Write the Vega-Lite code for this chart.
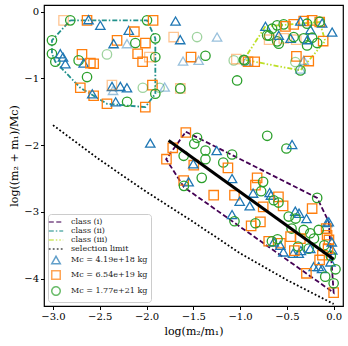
{
  "$schema": "https://vega.github.io/schema/vega-lite/v6.json",
  "width": 299,
  "height": 301,
  "autosize": "none",
  "padding": {"left": 44, "top": 5, "right": 5, "bottom": 40},
  "config": {
    "font": "DejaVu Serif",
    "view": {"stroke": "black", "strokeWidth": 1.2},
    "axis": {"grid": false, "domain": false, "tickColor": "black", "tickSize": 3.5, "labelColor": "black", "labelFontSize": 10, "titleFontSize": 11, "titleFontWeight": "normal", "titleColor": "black", "labelFont": "DejaVu Serif", "titleFont": "DejaVu Serif"}
  },
  "datasets": {
    "lines": [
      {"s": "class (i)", "i": 0, "x": -1.58, "y": -1.80},
      {"s": "class (i)", "i": 1, "x": -0.176, "y": -2.79},
      {"s": "class (i)", "i": 2, "x": -0.052, "y": -3.15},
      {"s": "class (i)", "i": 3, "x": 0.0, "y": -4.21},
      {"s": "class (i)", "i": 4, "x": -1.60, "y": -2.63},
      {"s": "class (i)", "i": 5, "x": -1.79, "y": -2.21},
      {"s": "class (i)", "i": 6, "x": -1.58, "y": -1.80},
      {"s": "class (ii)", "i": 0, "x": -2.815, "y": -0.13},
      {"s": "class (ii)", "i": 1, "x": -1.995, "y": -0.13},
      {"s": "class (ii)", "i": 2, "x": -1.906, "y": -0.40},
      {"s": "class (ii)", "i": 3, "x": -1.906, "y": -1.23},
      {"s": "class (ii)", "i": 4, "x": -2.013, "y": -1.43},
      {"s": "class (ii)", "i": 5, "x": -2.423, "y": -1.38},
      {"s": "class (ii)", "i": 6, "x": -2.565, "y": -1.26},
      {"s": "class (ii)", "i": 7, "x": -2.708, "y": -1.14},
      {"s": "class (ii)", "i": 8, "x": -2.975, "y": -0.75},
      {"s": "class (ii)", "i": 9, "x": -3.011, "y": -0.63},
      {"s": "class (ii)", "i": 10, "x": -3.011, "y": -0.43},
      {"s": "class (ii)", "i": 11, "x": -2.815, "y": -0.13},
      {"s": "class (iii)", "i": 0, "x": -0.729, "y": -0.22},
      {"s": "class (iii)", "i": 1, "x": -0.96, "y": -0.72},
      {"s": "class (iii)", "i": 2, "x": -0.355, "y": -0.88},
      {"s": "class (iii)", "i": 3, "x": -0.09, "y": -0.44},
      {"s": "class (iii)", "i": 4, "x": -0.149, "y": -0.155},
      {"s": "class (iii)", "i": 5, "x": -0.729, "y": -0.22},
      {"s": "selection limit", "i": 0, "x": -3.0, "y": -1.70},
      {"s": "selection limit", "i": 1, "x": -2.5, "y": -2.22},
      {"s": "selection limit", "i": 2, "x": -2.0, "y": -2.70},
      {"s": "selection limit", "i": 3, "x": -1.5, "y": -3.15},
      {"s": "selection limit", "i": 4, "x": -1.0, "y": -3.62},
      {"s": "selection limit", "i": 5, "x": -0.5, "y": -4.02},
      {"s": "selection limit", "i": 6, "x": 0.0, "y": -4.38}
    ],
    "fit": [
      {"x": -1.764, "y": -1.93},
      {"x": 0.0, "y": -3.71}
    ],
    "pts": [
      {"s": "Mc = 6.54e+19 kg", "f": true, "x": -2.887, "y": -0.13},
      {"s": "Mc = 1.77e+21 kg", "f": false, "x": -2.815, "y": -0.13},
      {"s": "Mc = 6.54e+19 kg", "f": false, "x": -2.636, "y": -0.13},
      {"s": "Mc = 4.19e+18 kg", "f": false, "x": -2.62, "y": -0.12},
      {"s": "Mc = 4.19e+18 kg", "f": false, "x": -2.494, "y": -0.205},
      {"s": "Mc = 4.19e+18 kg", "f": false, "x": -2.19, "y": -0.28},
      {"s": "Mc = 6.54e+19 kg", "f": false, "x": -2.13, "y": -0.30},
      {"s": "Mc = 1.77e+21 kg", "f": false, "x": -1.995, "y": -0.13},
      {"s": "Mc = 6.54e+19 kg", "f": false, "x": -1.93, "y": -0.13},
      {"s": "Mc = 6.54e+19 kg", "f": false, "x": -2.315, "y": -0.43},
      {"s": "Mc = 4.19e+18 kg", "f": false, "x": -2.352, "y": -0.48},
      {"s": "Mc = 4.19e+18 kg", "f": true, "x": -2.209, "y": -0.48},
      {"s": "Mc = 1.77e+21 kg", "f": false, "x": -2.12, "y": -0.47},
      {"s": "Mc = 6.54e+19 kg", "f": false, "x": -2.012, "y": -0.47},
      {"s": "Mc = 6.54e+19 kg", "f": false, "x": -2.095, "y": -0.63},
      {"s": "Mc = 6.54e+19 kg", "f": false, "x": -2.042, "y": -0.75},
      {"s": "Mc = 1.77e+21 kg", "f": false, "x": -1.906, "y": -0.40},
      {"s": "Mc = 1.77e+21 kg", "f": false, "x": -1.906, "y": -0.68},
      {"s": "Mc = 6.54e+19 kg", "f": true, "x": -1.97, "y": -0.68},
      {"s": "Mc = 1.77e+21 kg", "f": false, "x": -3.011, "y": -0.43},
      {"s": "Mc = 1.77e+21 kg", "f": false, "x": -3.011, "y": -0.63},
      {"s": "Mc = 1.77e+21 kg", "f": false, "x": -2.975, "y": -0.75},
      {"s": "Mc = 4.19e+18 kg", "f": false, "x": -2.922, "y": -0.63},
      {"s": "Mc = 4.19e+18 kg", "f": false, "x": -2.893, "y": -0.68},
      {"s": "Mc = 4.19e+18 kg", "f": false, "x": -2.868, "y": -0.78},
      {"s": "Mc = 6.54e+19 kg", "f": false, "x": -2.69, "y": -0.64},
      {"s": "Mc = 1.77e+21 kg", "f": false, "x": -2.726, "y": -0.73},
      {"s": "Mc = 4.19e+18 kg", "f": false, "x": -2.672, "y": -0.77},
      {"s": "Mc = 6.54e+19 kg", "f": false, "x": -2.60, "y": -0.77},
      {"s": "Mc = 6.54e+19 kg", "f": false, "x": -2.565, "y": -0.78},
      {"s": "Mc = 1.77e+21 kg", "f": true, "x": -2.423, "y": -0.64},
      {"s": "Mc = 1.77e+21 kg", "f": false, "x": -2.636, "y": -0.98},
      {"s": "Mc = 6.54e+19 kg", "f": false, "x": -2.708, "y": -1.14},
      {"s": "Mc = 6.54e+19 kg", "f": false, "x": -2.565, "y": -1.26},
      {"s": "Mc = 4.19e+18 kg", "f": false, "x": -2.58, "y": -1.23},
      {"s": "Mc = 6.54e+19 kg", "f": false, "x": -2.423, "y": -1.38},
      {"s": "Mc = 4.19e+18 kg", "f": false, "x": -2.33, "y": -1.35},
      {"s": "Mc = 1.77e+21 kg", "f": false, "x": -2.208, "y": -1.35},
      {"s": "Mc = 6.54e+19 kg", "f": false, "x": -2.013, "y": -1.43},
      {"s": "Mc = 4.19e+18 kg", "f": false, "x": -2.369, "y": -1.12},
      {"s": "Mc = 4.19e+18 kg", "f": false, "x": -2.28, "y": -1.12},
      {"s": "Mc = 4.19e+18 kg", "f": false, "x": -2.209, "y": -1.14},
      {"s": "Mc = 4.19e+18 kg", "f": true, "x": -2.358, "y": -1.18},
      {"s": "Mc = 6.54e+19 kg", "f": true, "x": -2.37, "y": -1.10},
      {"s": "Mc = 6.54e+19 kg", "f": false, "x": -1.937, "y": -1.10},
      {"s": "Mc = 1.77e+21 kg", "f": false, "x": -1.906, "y": -1.23},
      {"s": "Mc = 1.77e+21 kg", "f": true, "x": -2.04, "y": -1.14},
      {"s": "Mc = 1.77e+21 kg", "f": true, "x": -1.86, "y": -1.14},
      {"s": "Mc = 4.19e+18 kg", "f": true, "x": -1.806, "y": -1.13},
      {"s": "Mc = 6.54e+19 kg", "f": true, "x": -1.639, "y": -1.15},
      {"s": "Mc = 1.77e+21 kg", "f": false, "x": -1.639, "y": -1.15},
      {"s": "Mc = 4.19e+18 kg", "f": false, "x": -1.69, "y": -0.14},
      {"s": "Mc = 6.54e+19 kg", "f": true, "x": -1.71, "y": -0.38},
      {"s": "Mc = 4.19e+18 kg", "f": false, "x": -1.64, "y": -0.42},
      {"s": "Mc = 1.77e+21 kg", "f": true, "x": -1.46, "y": -0.38},
      {"s": "Mc = 4.19e+18 kg", "f": true, "x": -1.246, "y": -0.38},
      {"s": "Mc = 6.54e+19 kg", "f": false, "x": -1.524, "y": -0.68},
      {"s": "Mc = 4.19e+18 kg", "f": true, "x": -1.61, "y": -0.74},
      {"s": "Mc = 4.19e+18 kg", "f": true, "x": -1.443, "y": -0.73},
      {"s": "Mc = 1.77e+21 kg", "f": false, "x": -1.37, "y": -0.66},
      {"s": "Mc = 1.77e+21 kg", "f": true, "x": -1.068, "y": -0.73},
      {"s": "Mc = 6.54e+19 kg", "f": true, "x": -1.04, "y": -0.71},
      {"s": "Mc = 1.77e+21 kg", "f": false, "x": -0.951, "y": -0.73},
      {"s": "Mc = 6.54e+19 kg", "f": false, "x": -0.915, "y": -0.75},
      {"s": "Mc = 6.54e+19 kg", "f": false, "x": -0.844, "y": -0.75},
      {"s": "Mc = 4.19e+18 kg", "f": true, "x": -0.93, "y": -0.74},
      {"s": "Mc = 1.77e+21 kg", "f": false, "x": -1.032, "y": -1.03},
      {"s": "Mc = 4.19e+18 kg", "f": false, "x": -0.729, "y": -0.22},
      {"s": "Mc = 1.77e+21 kg", "f": false, "x": -0.711, "y": -0.355},
      {"s": "Mc = 1.77e+21 kg", "f": false, "x": -0.658, "y": -0.255},
      {"s": "Mc = 1.77e+21 kg", "f": false, "x": -0.604, "y": -0.205},
      {"s": "Mc = 1.77e+21 kg", "f": false, "x": -0.534, "y": -0.19},
      {"s": "Mc = 1.77e+21 kg", "f": false, "x": -0.69, "y": -0.36},
      {"s": "Mc = 1.77e+21 kg", "f": false, "x": -0.604, "y": -0.445},
      {"s": "Mc = 1.77e+21 kg", "f": false, "x": -0.587, "y": -0.48},
      {"s": "Mc = 4.19e+18 kg", "f": false, "x": -0.587, "y": -0.355},
      {"s": "Mc = 6.54e+19 kg", "f": true, "x": -0.69, "y": -0.42},
      {"s": "Mc = 6.54e+19 kg", "f": true, "x": -0.533, "y": -0.40},
      {"s": "Mc = 6.54e+19 kg", "f": false, "x": -0.515, "y": -0.22},
      {"s": "Mc = 6.54e+19 kg", "f": false, "x": -0.427, "y": -0.19},
      {"s": "Mc = 6.54e+19 kg", "f": false, "x": -0.32, "y": -0.14},
      {"s": "Mc = 6.54e+19 kg", "f": false, "x": -0.23, "y": -0.13},
      {"s": "Mc = 6.54e+19 kg", "f": false, "x": -0.149, "y": -0.155},
      {"s": "Mc = 6.54e+19 kg", "f": false, "x": -0.112, "y": -0.44},
      {"s": "Mc = 6.54e+19 kg", "f": false, "x": -0.398, "y": -0.67},
      {"s": "Mc = 6.54e+19 kg", "f": false, "x": -0.266, "y": -0.74},
      {"s": "Mc = 6.54e+19 kg", "f": true, "x": -0.40, "y": -0.42},
      {"s": "Mc = 4.19e+18 kg", "f": false, "x": -0.355, "y": -0.14},
      {"s": "Mc = 4.19e+18 kg", "f": false, "x": -0.248, "y": -0.27},
      {"s": "Mc = 4.19e+18 kg", "f": false, "x": -0.016, "y": -0.305},
      {"s": "Mc = 4.19e+18 kg", "f": false, "x": -0.46, "y": -0.40},
      {"s": "Mc = 4.19e+18 kg", "f": false, "x": -0.123, "y": -0.17},
      {"s": "Mc = 4.19e+18 kg", "f": true, "x": -0.32, "y": -0.73},
      {"s": "Mc = 1.77e+21 kg", "f": false, "x": -0.427, "y": -0.38},
      {"s": "Mc = 1.77e+21 kg", "f": false, "x": -0.284, "y": -0.18},
      {"s": "Mc = 1.77e+21 kg", "f": false, "x": -0.23, "y": -0.39},
      {"s": "Mc = 1.77e+21 kg", "f": false, "x": -0.284, "y": -0.505},
      {"s": "Mc = 1.77e+21 kg", "f": false, "x": -0.176, "y": -0.47},
      {"s": "Mc = 1.77e+21 kg", "f": false, "x": -0.355, "y": -0.88},
      {"s": "Mc = 4.19e+18 kg", "f": true, "x": -0.355, "y": -0.86},
      {"s": "Mc = 1.77e+21 kg", "f": true, "x": -0.41, "y": -0.755},
      {"s": "Mc = 1.77e+21 kg", "f": false, "x": -0.96, "y": -0.72},
      {"s": "Mc = 1.77e+21 kg", "f": false, "x": -0.15, "y": -0.15},
      {"s": "Mc = 1.77e+21 kg", "f": false, "x": -0.32, "y": -0.40},
      {"s": "Mc = 4.19e+18 kg", "f": false, "x": -0.28, "y": -0.42},
      {"s": "Mc = 4.19e+18 kg", "f": false, "x": -1.96, "y": -1.97},
      {"s": "Mc = 6.54e+19 kg", "f": false, "x": -1.58, "y": -1.81},
      {"s": "Mc = 1.77e+21 kg", "f": false, "x": -1.46, "y": -1.89},
      {"s": "Mc = 1.77e+21 kg", "f": false, "x": -1.49, "y": -1.98},
      {"s": "Mc = 6.54e+19 kg", "f": false, "x": -1.72, "y": -2.04},
      {"s": "Mc = 6.54e+19 kg", "f": false, "x": -1.787, "y": -2.21},
      {"s": "Mc = 1.77e+21 kg", "f": false, "x": -1.603, "y": -2.16},
      {"s": "Mc = 1.77e+21 kg", "f": false, "x": -1.37, "y": -2.08},
      {"s": "Mc = 1.77e+21 kg", "f": false, "x": -1.37, "y": -2.21},
      {"s": "Mc = 4.19e+18 kg", "f": false, "x": -1.25, "y": -2.08},
      {"s": "Mc = 6.54e+19 kg", "f": false, "x": -1.495, "y": -2.30},
      {"s": "Mc = 4.19e+18 kg", "f": false, "x": -1.50, "y": -2.28},
      {"s": "Mc = 1.77e+21 kg", "f": false, "x": -1.18, "y": -2.26},
      {"s": "Mc = 1.77e+21 kg", "f": false, "x": -1.086, "y": -2.14},
      {"s": "Mc = 6.54e+19 kg", "f": false, "x": -1.13, "y": -2.34},
      {"s": "Mc = 1.77e+21 kg", "f": false, "x": -1.41, "y": -2.49},
      {"s": "Mc = 4.19e+18 kg", "f": false, "x": -1.086, "y": -2.50},
      {"s": "Mc = 6.54e+19 kg", "f": false, "x": -1.603, "y": -2.53},
      {"s": "Mc = 4.19e+18 kg", "f": false, "x": -1.55, "y": -2.55},
      {"s": "Mc = 1.77e+21 kg", "f": false, "x": -1.60, "y": -2.61},
      {"s": "Mc = 6.54e+19 kg", "f": false, "x": -1.282, "y": -2.75},
      {"s": "Mc = 6.54e+19 kg", "f": false, "x": -1.06, "y": -2.75},
      {"s": "Mc = 4.19e+18 kg", "f": false, "x": -1.004, "y": -2.84},
      {"s": "Mc = 4.19e+18 kg", "f": false, "x": -0.897, "y": -2.91},
      {"s": "Mc = 4.19e+18 kg", "f": false, "x": -1.086, "y": -3.04},
      {"s": "Mc = 1.77e+21 kg", "f": false, "x": -1.06, "y": -3.14},
      {"s": "Mc = 6.54e+19 kg", "f": false, "x": -0.818, "y": -2.49},
      {"s": "Mc = 6.54e+19 kg", "f": false, "x": -0.836, "y": -2.60},
      {"s": "Mc = 1.77e+21 kg", "f": false, "x": -0.754, "y": -2.55},
      {"s": "Mc = 1.77e+21 kg", "f": false, "x": -0.775, "y": -2.69},
      {"s": "Mc = 4.19e+18 kg", "f": false, "x": -0.861, "y": -2.72},
      {"s": "Mc = 4.19e+18 kg", "f": false, "x": -0.684, "y": -2.71},
      {"s": "Mc = 4.19e+18 kg", "f": false, "x": -0.67, "y": -2.75},
      {"s": "Mc = 6.54e+19 kg", "f": false, "x": -0.753, "y": -2.925},
      {"s": "Mc = 6.54e+19 kg", "f": false, "x": -0.59, "y": -2.775},
      {"s": "Mc = 6.54e+19 kg", "f": false, "x": -0.54, "y": -2.91},
      {"s": "Mc = 1.77e+21 kg", "f": false, "x": -0.59, "y": -2.86},
      {"s": "Mc = 6.54e+19 kg", "f": false, "x": -0.783, "y": -3.15},
      {"s": "Mc = 6.54e+19 kg", "f": false, "x": -0.882, "y": -3.21},
      {"s": "Mc = 1.77e+21 kg", "f": false, "x": -0.836, "y": -3.17},
      {"s": "Mc = 6.54e+19 kg", "f": false, "x": -0.23, "y": -2.95},
      {"s": "Mc = 1.77e+21 kg", "f": false, "x": -0.176, "y": -2.79},
      {"s": "Mc = 4.19e+18 kg", "f": false, "x": -0.41, "y": -2.99},
      {"s": "Mc = 4.19e+18 kg", "f": false, "x": -0.37, "y": -3.02},
      {"s": "Mc = 4.19e+18 kg", "f": false, "x": -0.29, "y": -3.10},
      {"s": "Mc = 4.19e+18 kg", "f": false, "x": -0.07, "y": -3.16},
      {"s": "Mc = 1.77e+21 kg", "f": false, "x": -0.641, "y": -2.825},
      {"s": "Mc = 1.77e+21 kg", "f": false, "x": -0.48, "y": -3.07},
      {"s": "Mc = 1.77e+21 kg", "f": false, "x": -0.407, "y": -3.10},
      {"s": "Mc = 1.77e+21 kg", "f": false, "x": -0.45, "y": -3.25},
      {"s": "Mc = 4.19e+18 kg", "f": false, "x": -0.052, "y": -3.15},
      {"s": "Mc = 6.54e+19 kg", "f": false, "x": -0.08, "y": -3.25},
      {"s": "Mc = 6.54e+19 kg", "f": false, "x": -0.07, "y": -3.35},
      {"s": "Mc = 6.54e+19 kg", "f": false, "x": -0.05, "y": -3.42},
      {"s": "Mc = 1.77e+21 kg", "f": false, "x": -0.16, "y": -3.27},
      {"s": "Mc = 1.77e+21 kg", "f": false, "x": -0.32, "y": -3.27},
      {"s": "Mc = 1.77e+21 kg", "f": false, "x": -0.21, "y": -3.40},
      {"s": "Mc = 1.77e+21 kg", "f": false, "x": -0.25, "y": -3.32},
      {"s": "Mc = 6.54e+19 kg", "f": false, "x": -0.694, "y": -3.44},
      {"s": "Mc = 6.54e+19 kg", "f": false, "x": -0.569, "y": -3.47},
      {"s": "Mc = 6.54e+19 kg", "f": false, "x": -0.356, "y": -3.40},
      {"s": "Mc = 6.54e+19 kg", "f": false, "x": -0.46, "y": -3.37},
      {"s": "Mc = 4.19e+18 kg", "f": false, "x": -0.434, "y": -3.62},
      {"s": "Mc = 4.19e+18 kg", "f": false, "x": -0.537, "y": -3.60},
      {"s": "Mc = 4.19e+18 kg", "f": false, "x": -0.64, "y": -3.45},
      {"s": "Mc = 4.19e+18 kg", "f": false, "x": -0.57, "y": -3.50},
      {"s": "Mc = 4.19e+18 kg", "f": false, "x": -0.373, "y": -3.62},
      {"s": "Mc = 1.77e+21 kg", "f": false, "x": -0.66, "y": -3.44},
      {"s": "Mc = 1.77e+21 kg", "f": false, "x": -0.60, "y": -3.41},
      {"s": "Mc = 1.77e+21 kg", "f": false, "x": -0.266, "y": -3.55},
      {"s": "Mc = 4.19e+18 kg", "f": false, "x": -0.015, "y": -3.57},
      {"s": "Mc = 4.19e+18 kg", "f": false, "x": -0.213, "y": -3.82},
      {"s": "Mc = 4.19e+18 kg", "f": false, "x": -0.124, "y": -3.85},
      {"s": "Mc = 4.19e+18 kg", "f": false, "x": -0.16, "y": -3.82},
      {"s": "Mc = 4.19e+18 kg", "f": false, "x": -0.034, "y": -3.75},
      {"s": "Mc = 6.54e+19 kg", "f": false, "x": -0.291, "y": -3.92},
      {"s": "Mc = 6.54e+19 kg", "f": false, "x": 0.0, "y": -4.21},
      {"s": "Mc = 1.77e+21 kg", "f": false, "x": 0.0, "y": -4.07},
      {"s": "Mc = 1.77e+21 kg", "f": false, "x": 0.02, "y": -3.86},
      {"s": "Mc = 1.77e+21 kg", "f": false, "x": -0.09, "y": -3.97},
      {"s": "Mc = 6.54e+19 kg", "f": false, "x": -0.12, "y": -3.65},
      {"s": "Mc = 6.54e+19 kg", "f": false, "x": -0.15, "y": -3.72},
      {"s": "Mc = 1.77e+21 kg", "f": false, "x": -0.03, "y": -3.66},
      {"s": "Mc = 4.19e+18 kg", "f": false, "x": -0.35, "y": -3.58},
      {"s": "Mc = 4.19e+18 kg", "f": false, "x": -0.25, "y": -3.55},
      {"s": "Mc = 1.77e+21 kg", "f": false, "x": -0.1, "y": -3.5},
      {"s": "Mc = 6.54e+19 kg", "f": false, "x": -0.06, "y": -3.55},
      {"s": "Mc = 4.19e+18 kg", "f": false, "x": -0.02, "y": -3.45},
      {"s": "Mc = 1.77e+21 kg", "f": false, "x": -0.38, "y": -3.52},
      {"s": "Mc = 6.54e+19 kg", "f": false, "x": -0.42, "y": -3.58},
      {"s": "Mc = 1.77e+21 kg", "f": false, "x": -0.71, "y": -1.86},
      {"s": "Mc = 1.77e+21 kg", "f": false, "x": -0.505, "y": -2.05},
      {"s": "Mc = 4.19e+18 kg", "f": false, "x": -0.444, "y": -1.99}
    ]
  },
  "encoding": {
    "x": {"field": "x", "type": "quantitative", "scale": {"domain": [-3.096, 0.1], "nice": false, "zero": false}, "axis": {"title": "log(m₂/m₁)", "values": [-3, -2.5, -2, -1.5, -1, -0.5, 0], "format": ".1f", "labelFlush": false}},
    "y": {"field": "y", "type": "quantitative", "scale": {"domain": [-4.41, 0.1], "nice": false, "zero": false}, "axis": {"title": "log((m₂ + m₁)/Mc)", "values": [0, -1, -2, -3, -4], "format": "d", "labelFlush": false}}
  },
  "layer": [
    {
      "data": {"name": "lines"},
      "mark": {"type": "line", "strokeWidth": 1.8, "clip": true},
      "encoding": {
        "order": {"field": "i", "type": "quantitative"},
        "color": {"field": "s", "type": "nominal", "scale": {"domain": ["class (i)", "class (ii)", "class (iii)", "selection limit", "Mc = 4.19e+18 kg", "Mc = 6.54e+19 kg", "Mc = 1.77e+21 kg"], "range": ["#440154", "#21918c", "#bddf26", "#000000", "#1f77b4", "#ff7f0e", "#2ca02c"]},
          "legend": {"title": null, "orient": "bottom-left", "offset": 4, "fillColor": "white", "strokeColor": "#cccccc", "padding": 3, "cornerRadius": 3, "labelFontSize": 8, "labelFont": "DejaVu Serif", "labelColor": "#222222", "labelOffset": 10, "rowPadding": 0, "symbolStrokeWidth": 1.5, "symbolSize": 72}},
        "strokeDash": {"field": "s", "type": "nominal", "scale": {"domain": ["class (i)", "class (ii)", "class (iii)", "selection limit", "Mc = 4.19e+18 kg", "Mc = 6.54e+19 kg", "Mc = 1.77e+21 kg"], "range": [[5, 2.5], [5, 2, 1.5, 2], [5, 2, 1.5, 2, 1.5, 2], [1.8, 2.2], [1, 0], [1, 0], [1, 0]]},
          "legend": {"title": null, "orient": "bottom-left", "offset": 4, "fillColor": "white", "strokeColor": "#cccccc", "padding": 3, "cornerRadius": 3, "labelFontSize": 8, "labelFont": "DejaVu Serif", "labelColor": "#222222", "labelOffset": 10, "rowPadding": 0, "symbolStrokeWidth": 1.5, "symbolSize": 72}}
      }
    },
    {
      "data": {"name": "pts"},
      "mark": {"type": "point", "filled": false, "strokeWidth": 1.3, "size": 88},
      "encoding": {
        "color": {"field": "s", "type": "nominal"},
        "shape": {"field": "s", "type": "nominal", "scale": {"domain": ["class (i)", "class (ii)", "class (iii)", "selection limit", "Mc = 4.19e+18 kg", "Mc = 6.54e+19 kg", "Mc = 1.77e+21 kg"], "range": ["M-1.7,0L1.7,0", "M-1.7,0L1.7,0", "M-1.7,0L1.7,0", "M-1.7,0L1.7,0", "triangle-up", "square", "circle"]},
          "legend": {"title": null, "orient": "bottom-left", "offset": 4, "fillColor": "white", "strokeColor": "#cccccc", "padding": 3, "cornerRadius": 3, "labelFontSize": 8, "labelFont": "DejaVu Serif", "labelColor": "#222222", "labelOffset": 10, "rowPadding": 0, "symbolStrokeWidth": 1.5, "symbolSize": 72}},
        "opacity": {"field": "f", "type": "nominal", "scale": {"domain": [false, true], "range": [1, 0.45]}, "legend": null}
      }
    },
    {
      "data": {"name": "fit"},
      "mark": {"type": "line", "color": "black", "strokeWidth": 3},
      "encoding": {}
    }
  ]
}
